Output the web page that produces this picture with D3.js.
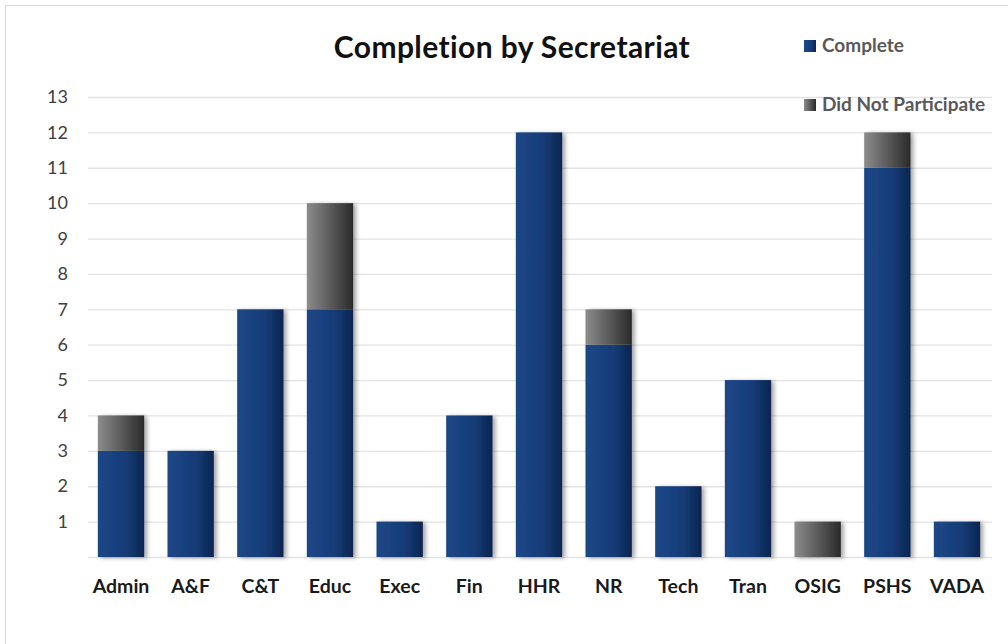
<!DOCTYPE html>
<html><head><meta charset="utf-8">
<script src="https://cdn.jsdelivr.net/npm/d3@7"></script>
<style>body{margin:0;background:#fff;font-family:Lato,"Open Sans",sans-serif;}</style>
</head><body><svg id="c" width="1008" height="644"></svg>
<script>
const categories = ["Admin","A&F","C&T","Educ","Exec","Fin","HHR","NR","Tech","Tran","OSIG","PSHS","VADA"];
const complete = [3,3,7,7,1,4,12,6,2,5,0,11,1];
const didNotParticipate = [1,0,0,3,0,0,0,1,0,0,1,1,0];
const seriesNames = ["Complete","Did Not Participate"];
const yTicks = [1,2,3,4,5,6,7,8,9,10,11,12,13];

const FONT = "Lato,'Open Sans',sans-serif";
const svg = d3.select("#c");
const defs = svg.append("defs");
const gb = defs.append("linearGradient").attr("id","gBlue");
gb.append("stop").attr("offset","0%").attr("stop-color","#1d4787");
gb.append("stop").attr("offset","60%").attr("stop-color","#163c78");
gb.append("stop").attr("offset","100%").attr("stop-color","#0b2550");
const gg = defs.append("linearGradient").attr("id","gGray");
gg.append("stop").attr("offset","0%").attr("stop-color","#8c8c8c");
gg.append("stop").attr("offset","100%").attr("stop-color","#2a2a2a");
const f = defs.append("filter").attr("id","sh").attr("x","-20%").attr("y","-10%").attr("width","150%").attr("height","120%");
f.append("feDropShadow").attr("dx",3).attr("dy",1).attr("stdDeviation",2.2).attr("flood-color","#000").attr("flood-opacity",0.35);

// frame
svg.append("rect").attr("x",5.5).attr("y",5.5).attr("width",1010).attr("height",650).attr("fill","none").attr("stroke","#d9d9d9");

const x = d3.scaleBand().domain(categories).range([86,992]).paddingInner(0.335).paddingOuter(0.17);
const y = d3.scaleLinear().domain([0,13]).range([557,97]);

// grid
svg.append("g").selectAll("line").data([0].concat(yTicks)).join("line")
  .attr("x1",88).attr("x2",992).attr("y1",d=>y(d)+0.5).attr("y2",d=>y(d)+0.5)
  .attr("stroke","#e3e3e3").attr("stroke-width",1.3);

// y axis labels
const ya = svg.append("g").attr("transform","translate(68,0)")
  .call(d3.axisLeft(y).tickValues(yTicks).tickSize(0).tickPadding(0));
ya.select(".domain").remove();
ya.selectAll("text").attr("font-family",FONT).attr("font-size",18).attr("fill","#404040");

// x axis labels
const xa = svg.append("g").attr("transform","translate(0,575)")
  .call(d3.axisBottom(x).tickSize(0).tickPadding(0));
xa.select(".domain").remove();
xa.selectAll("text").attr("font-family",FONT).attr("font-size",19.5).attr("font-weight","bold").attr("fill","#1a1a1a").attr("dy","0.9em");

// bars
const data = categories.map((c,i)=>({c, a:complete[i], b:didNotParticipate[i]}));
const bars = svg.append("g").attr("filter","url(#sh)");
bars.selectAll("rect.a").data(data.filter(d=>d.a>0)).join("rect")
  .attr("x",d=>x(d.c)).attr("width",x.bandwidth())
  .attr("y",d=>y(d.a)).attr("height",d=>y(0)-y(d.a)).attr("fill","url(#gBlue)");
bars.selectAll("rect.b").data(data.filter(d=>d.b>0)).join("rect")
  .attr("x",d=>x(d.c)).attr("width",x.bandwidth())
  .attr("y",d=>y(d.a+d.b)).attr("height",d=>y(d.a)-y(d.a+d.b)).attr("fill","url(#gGray)");

// title
svg.append("text").attr("x",512).attr("y",58).attr("text-anchor","middle")
  .attr("font-family",FONT).attr("font-size",30).attr("font-weight","bold").attr("fill","#111")
  .attr("letter-spacing",0.4)
  .text("Completion by Secretariat");

// legend
const leg = svg.append("g");
const ly = [40,99];
const fills = ["url(#gBlue)","url(#gGray)"];
seriesNames.forEach((n,i)=>{
  leg.append("rect").attr("x",804).attr("y",ly[i]).attr("width",12).attr("height",12).attr("fill",fills[i]);
  leg.append("text").attr("x",822).attr("y",ly[i]+12).attr("font-family",FONT)
    .attr("font-size",19).attr("font-weight","bold").attr("fill","#595959").text(n);
});
</script></body></html>
